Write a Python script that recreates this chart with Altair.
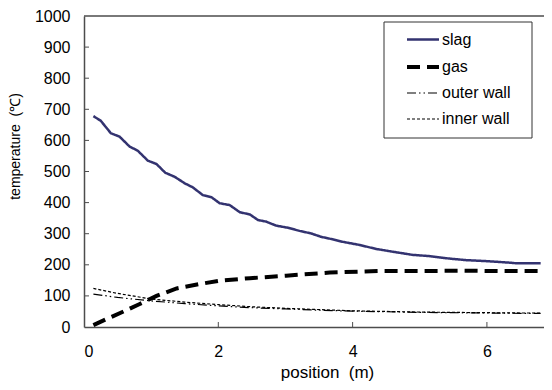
import altair as alt
import pandas as pd

# ---- data ----
slag_x = [0.14, 0.25, 0.40, 0.53, 0.68, 0.80, 0.95, 1.08, 1.21, 1.35, 1.50, 1.62, 1.77, 1.90,
          2.02, 2.17, 2.32, 2.47, 2.59, 2.71, 2.86, 3.04, 3.21, 3.38, 3.53, 3.70, 3.85, 4.10,
          4.35, 4.60, 4.89, 5.14, 5.44, 5.69, 5.98, 6.33, 6.43, 6.80]
slag_t = [678, 663, 623, 612, 580, 567, 535, 524, 496, 483, 462, 449, 424, 417,
          398, 392, 369, 362, 344, 339, 326, 319, 309, 301, 290, 282, 274, 264,
          251, 242, 232, 228, 220, 215, 212, 207, 205, 205]

gas_x = [0.14, 0.30, 0.58, 0.83, 1.08, 1.38, 1.72, 2.02, 2.47, 3.01, 3.66, 4.40, 5.00, 5.60, 6.20, 6.80]
gas_t = [6, 22, 49, 74, 100, 124, 138, 149, 157, 165, 175, 180, 180, 181, 180, 180]

wall_x = [0.14, 0.50, 1.00, 1.50, 2.00, 2.50, 3.00, 3.50, 4.00, 4.50, 5.00, 5.50, 6.00, 6.50, 6.80]
outer_t = [106, 95, 84, 75, 68, 62, 58, 54, 51, 49, 47, 46, 45, 44, 44]
inner_t = [124, 108, 90, 80, 72, 65, 60, 56, 52, 50, 48, 47, 46, 45, 45]

series_names = ["slag", "gas", "outer wall", "inner wall"]
series_colors = ["#333370", "#000000", "#000000", "#000000"]
series_dash = [[1, 0], [13, 7], [9, 3, 1.5, 3, 1.5, 3], [3, 2]]
series_width = [2.5, 4, 1.2, 1.2]

x_labels = [0, 2, 4, 6]
y_labels = [0, 100, 200, 300, 400, 500, 600, 700, 800, 900, 1000]
x_ticks = [2, 4, 6]
y_ticks = [100, 200, 300, 400, 500, 600, 700, 800, 900]

W, H = 460, 311

rows = []
for name, xs, ts in [("slag", slag_x, slag_t), ("gas", gas_x, gas_t),
                     ("outer wall", wall_x, outer_t), ("inner wall", wall_x, inner_t)]:
    for i, (xv, tv) in enumerate(zip(xs, ts)):
        rows.append({"series": name, "x": xv, "t": tv, "order": i})
df = pd.DataFrame(rows)

FONT = "Liberation Sans"
NB = "\u00a0"

xscale = alt.Scale(domain=[0, 6.85], nice=False)
yscale = alt.Scale(domain=[0, 1000], nice=False)

xaxis = alt.Axis(title=f"position{NB}{NB}(m)", values=x_labels, format="d", ticks=False,
                 grid=False, labelOverlap=False,
                 labelPadding=16, labelFontSize=16, titleFontSize=17,
                 titleX=243, titleY=50, titleBaseline="alphabetic",
                 domainColor="#4d4d4d", domainWidth=1.5)
yaxis = alt.Axis(title=f"temperature{NB}{NB}(℃)", values=y_labels, format="d",
                 ticks=False, grid=False, labelOverlap=False, labelPadding=14,
                 labelFontSize=16, titleFontSize=14,
                 titleX=-69, titleY=130, titleBaseline="middle", titleAngle=270,
                 domainColor="#4d4d4d", domainWidth=1.5)

# legend frame (decoration)
frame = alt.Chart(pd.DataFrame({"v": [0]})).mark_rect(
    fill="white", stroke="#333333", strokeWidth=1
).encode(x=alt.value(300), x2=alt.value(448), y=alt.value(6), y2=alt.value(122))

lines = alt.Chart(df).mark_line().encode(
    x=alt.X("x:Q", scale=xscale, axis=xaxis),
    y=alt.Y("t:Q", scale=yscale, axis=yaxis),
    order="order:Q",
    color=alt.Color("series:N", scale=alt.Scale(domain=series_names, range=series_colors),
                    sort=series_names, title=None),
    strokeDash=alt.StrokeDash("series:N", scale=alt.Scale(domain=series_names, range=series_dash),
                              sort=series_names, title=None),
    strokeWidth=alt.StrokeWidth("series:N", scale=alt.Scale(type="ordinal", domain=series_names,
                                                            range=series_width),
                                sort=series_names, title=None),
)

xt = alt.Chart(pd.DataFrame({"v": x_ticks})).mark_rule(color="#4d4d4d", strokeWidth=1).encode(
    x=alt.X("v:Q", scale=xscale, axis=xaxis), y=alt.value(H), y2=alt.value(H - 5))
yt = alt.Chart(pd.DataFrame({"v": y_ticks})).mark_rule(color="#4d4d4d", strokeWidth=1).encode(
    y=alt.Y("v:Q", scale=yscale, axis=yaxis), x=alt.value(0), x2=alt.value(5))
top = alt.Chart(pd.DataFrame({"v": [0]})).mark_rule(color="#4d4d4d", strokeWidth=1.5).encode(
    y=alt.value(0), x=alt.value(0), x2=alt.value(W))

chart = alt.layer(frame, lines, xt, yt, top).properties(
    width=W, height=H,
    autosize=alt.AutoSizeParams(type="none"),
    padding={"left": 76, "top": 8, "right": 0, "bottom": 55},
).configure_view(stroke=None).configure_axis(
    labelFont=FONT, titleFont=FONT, labelColor="black", titleColor="black", titleFontWeight="normal"
).configure_legend(
    orient="none", legendX=321, legendY=6, direction="vertical",
    padding=0, rowPadding=1, symbolType="stroke", symbolSize=1024,
    labelFont=FONT, labelFontSize=16, labelColor="black", labelOffset=1,
    symbolStrokeColor="black",
)

chart.save("out.html", embed_options={"renderer": "svg", "actions": False})
